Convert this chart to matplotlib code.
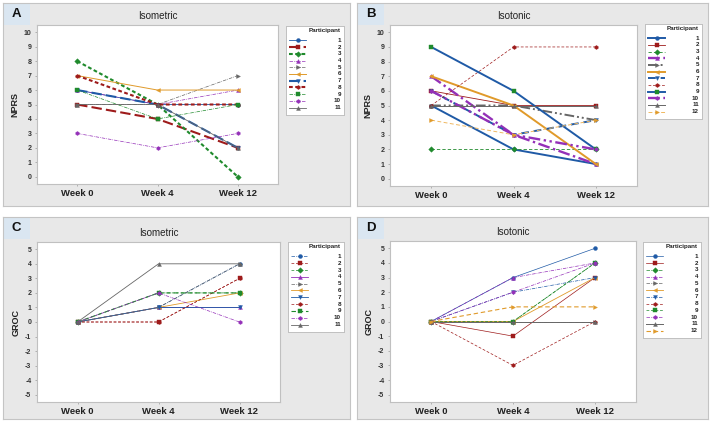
import matplotlib
matplotlib.use("Agg")
import matplotlib.pyplot as plt

plt.rcParams['font.family'] = ['Liberation Sans', 'DejaVu Sans']

weeks = ["Week 0", "Week 4", "Week 12"]

# ---- Panel A: Isometric NPRS (11 participants)
a_ids = ["1", "2", "3", "4", "5", "6", "7", "8", "9", "10", "11"]
a_vals = [
    [6, 5, 5], [5, 4, 2], [8, 5, 0], [6, 5, 6], [5, 5, 7], [7, 6, 6],
    [6, 5, 2], [7, 5, 5], [6, 4, 5], [3, 2, 3], [5, 5, 2],
]
# ---- Panel B: Isotonic NPRS (12 participants)
b_ids = ["1", "2", "3", "4", "5", "6", "7", "8", "9", "10", "11", "12"]
b_vals = [
    [5, 2, 1], [6, 5, 5], [2, 2, 2], [7, 3, 1], [5, 5, 4], [7, 5, 1],
    [6, 3, 4], [5, 9, 9], [9, 6, 2], [6, 3, 2], [5, 5, 5], [4, 3, 4],
]
# ---- Panel C: Isometric GROC (11 participants)
c_ids = ["1", "2", "3", "4", "5", "6", "7", "8", "9", "10", "11"]
c_vals = [
    [0, 1, 4], [0, 0, 3], [0, 2, 2], [0, 1, 1], [0, 1, 4], [0, 1, 2],
    [0, 1, 1], [0, 0, 3], [0, 2, 2], [0, 2, 0], [0, 4, 4],
]
# ---- Panel D: Isotonic GROC (12 participants)
d_ids = ["1", "2", "3", "4", "5", "6", "7", "8", "9", "10", "11", "12"]
d_vals = [
    [0, 3, 5], [0, -1, 3], [0, 0, 4], [0, 3, 4], [0, 0, 0], [0, 0, 3],
    [0, 2, 3], [0, -3, 0], [0, 0, 4], [0, 2, 4], [0, 0, 0], [0, 1, 1],
]

BLUE = '#1f5aa6'
RED = '#9e1b1b'
GREEN = '#1f8a2c'
PURPLE = '#9430b8'
GRAY = '#666666'
ORANGE = '#e09a2a'
LORANGE = '#f0b860'

SOLID = '-'
LDASH = (0, (5, 2))
DOT = (0, (1.8, 1.2))
DASH = (0, (4, 2.5))
DASHDOT = (0, (5, 1.5, 1, 1.5))
DDOT = (0, (5, 1.5, 1, 1.5, 1, 1.5))

# style: (line colour, marker colour, linestyle, linewidth, marker)
styles_a = [
    (BLUE, BLUE, SOLID, 0.6, 'o'),
    (RED, RED, LDASH, 1.5, 's'),
    (GREEN, GREEN, DOT, 1.5, 'D'),
    (PURPLE, PURPLE, DASHDOT, 0.5, '^'),
    (GRAY, GRAY, DASHDOT, 0.5, '>'),
    (ORANGE, ORANGE, SOLID, 0.7, '<'),
    (BLUE, BLUE, LDASH, 1.5, 'v'),
    (RED, RED, DOT, 1.5, 'h'),
    (GREEN, GREEN, DASHDOT, 0.5, 's'),
    (PURPLE, PURPLE, DASHDOT, 0.5, 'h'),
    (GRAY, GRAY, SOLID, 0.6, '^'),
]
styles_b = [
    (BLUE, BLUE, SOLID, 1.4, 'o'),
    (RED, RED, SOLID, 0.6, 's'),
    (GREEN, GREEN, DASH, 0.6, 'D'),
    (PURPLE, PURPLE, DASHDOT, 1.7, '^'),
    (GRAY, GRAY, DDOT, 1.4, '>'),
    (ORANGE, ORANGE, SOLID, 1.4, '<'),
    (BLUE, BLUE, DASH, 1.4, 'v'),
    (RED, RED, DASH, 0.5, 'h'),
    (BLUE, GREEN, SOLID, 1.4, 's'),
    (PURPLE, PURPLE, DDOT, 1.7, 'h'),
    (GRAY, GRAY, SOLID, 0.7, '^'),
    (LORANGE, ORANGE, DASH, 0.7, '>'),
]
styles_c = [
    (BLUE, BLUE, DASHDOT, 0.5, 'o'),
    (RED, RED, DASH, 0.5, 's'),
    (GREEN, GREEN, DASH, 0.5, 'D'),
    (PURPLE, PURPLE, SOLID, 0.6, '^'),
    (GRAY, GRAY, DASHDOT, 0.5, '>'),
    (ORANGE, ORANGE, SOLID, 0.6, '<'),
    (BLUE, BLUE, SOLID, 0.6, 'v'),
    (RED, RED, DASH, 0.5, 'h'),
    (GREEN, GREEN, DASH, 0.8, 's'),
    (PURPLE, PURPLE, DASHDOT, 0.5, 'h'),
    (GRAY, GRAY, SOLID, 0.6, '^'),
]
styles_d = [
    (BLUE, BLUE, SOLID, 0.5, 'o'),
    (RED, RED, SOLID, 0.5, 's'),
    (GREEN, GREEN, DASHDOT, 0.5, 'D'),
    (PURPLE, PURPLE, DASHDOT, 0.5, '^'),
    (GRAY, GRAY, DASHDOT, 0.5, '>'),
    (ORANGE, ORANGE, SOLID, 0.6, '<'),
    (BLUE, BLUE, DASHDOT, 0.5, 'v'),
    (RED, RED, DASH, 0.5, 'h'),
    (GREEN, GREEN, DASH, 0.5, 's'),
    (PURPLE, PURPLE, DASHDOT, 0.5, 'h'),
    (GRAY, GRAY, SOLID, 0.7, '^'),
    (ORANGE, ORANGE, DASH, 0.8, '>'),
]

W, H = 711, 422
fig = plt.figure(figsize=(W / 100, H / 100), dpi=100)
fig.patch.set_facecolor('white')


def rect(x0, y0, x1, y1):
    return [x0 / W, 1 - y1 / H, (x1 - x0) / W, (y1 - y0) / H]


def panel(bg, plot, leg, letter, title, ylabel, ylim, yticks, ids, vals, styles):
    # background panel
    bax = fig.add_axes(rect(*bg))
    bax.set_facecolor('#e8e8e8')
    bax.set_xticks([]); bax.set_yticks([])
    for s in bax.spines.values():
        s.set_color('#c4c4c4'); s.set_linewidth(0.8)
    bax.set_xlim(0, 1); bax.set_ylim(0, 1)
    # letter box
    bw = 27 / (bg[2] - bg[0]); bh = 22 / (bg[3] - bg[1])
    bax.add_patch(plt.Rectangle((0, 1 - bh), bw, bh, facecolor='#dae6f1',
                                edgecolor='none', transform=bax.transAxes))
    bax.text(bw * 0.5, 1 - bh * 0.5, letter, transform=bax.transAxes,
             ha='center', va='center', fontsize=9.5, fontweight='bold', color='#111111')

    ax = fig.add_axes(rect(*plot))
    ax.set_facecolor('white')
    x = list(range(len(weeks)))
    for v, st in zip(vals, styles):
        lc, mc, ls, lw, mk = st
        ax.plot(x, v, color=lc, linestyle=ls, linewidth=lw, marker=mk,
                markersize=2.8, markerfacecolor=mc, markeredgecolor=mc,
                markeredgewidth=0.3)
    ax.set_xlim(-0.5, 2.5)
    ax.set_ylim(*ylim)
    ax.set_xticks(x)
    ax.set_xticklabels(weeks, fontsize=6.8, fontweight='bold', color='#222222')
    ax.set_yticks(yticks)
    ax.set_yticklabels([str(t) for t in yticks], fontsize=5, fontweight='bold', color='#333333')
    ax.tick_params(axis='both', length=1.5, width=0.5, color='#999999', pad=2)
    ax.tick_params(axis='y', pad=2.5)
    ax.set_ylabel(ylabel, fontsize=6.5, fontweight='bold', color='#222222', labelpad=3)
    for s in ax.spines.values():
        s.set_color('#c0c0c0'); s.set_linewidth(0.8)
    ax.set_title(title, fontsize=7, color='#222222', pad=4)

    # legend
    lax = fig.add_axes(rect(*leg))
    lw_px = leg[2] - leg[0]; lh_px = leg[3] - leg[1]
    lax.set_xlim(0, lw_px); lax.set_ylim(lh_px, 0)
    lax.set_xticks([]); lax.set_yticks([])
    lax.set_facecolor('white')
    for s in lax.spines.values():
        s.set_color('#c0c0c0'); s.set_linewidth(0.7)
    lax.text(lw_px - 3, 4.5, 'Participant', fontsize=4.5, fontweight='bold',
             ha='right', va='center', color='#222222')
    n = len(ids)
    step = (lh_px - 15) / n
    for i, (pid, st) in enumerate(zip(ids, styles)):
        lc, mc, ls, lw, mk = st
        yy = 12 + step * i + step * 0.35
        lax.plot([3, 20], [yy, yy], color=lc, linestyle=ls, linewidth=lw)
        lax.plot([11.5], [yy], marker=mk, markersize=2.8, color=mc,
                 markeredgewidth=0.3)
        lax.text(lw_px - 3, yy, pid, fontsize=4.5, fontweight='bold',
                 ha='right', va='center', color='#222222')


panel((3, 3, 350, 206), (37, 25, 278, 184), (286, 26, 344, 115), 'A', 'Isometric',
      'NPRS', (-0.5, 10.5), list(range(0, 11)), a_ids, a_vals, styles_a)
panel((357, 3, 708, 206), (390, 25, 637, 186), (645, 24, 702, 119), 'B', 'Isotonic',
      'NPRS', (-0.5, 10.5), list(range(0, 11)), b_ids, b_vals, styles_b)
panel((3, 217, 350, 419), (37, 242, 280, 402), (288, 242, 344, 332), 'C', 'Isometric',
      'GROC', (-5.5, 5.5), list(range(-5, 6)), c_ids, c_vals, styles_c)
panel((357, 217, 708, 419), (390, 241, 636, 402), (643, 242, 701, 338), 'D', 'Isotonic',
      'GROC', (-5.5, 5.5), list(range(-5, 6)), d_ids, d_vals, styles_d)

fig.savefig('out.png', dpi=100, facecolor='white')
